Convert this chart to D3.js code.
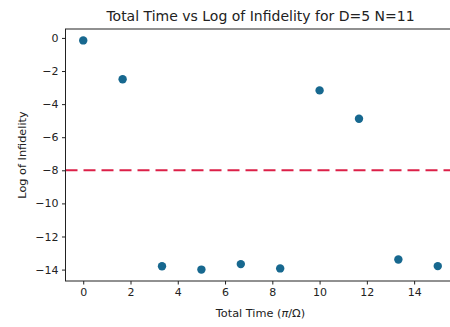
<!DOCTYPE html>
<html>
<head>
  <meta charset="utf-8">
  <script src="https://d3js.org/d3.v7.min.js"></script>
  <style>
    body { margin: 0; background: #fff; }
    text { font-family: "DejaVu Sans", sans-serif; fill: #222; }
  </style>
</head>
<body>
  <svg id="chart" width="450" height="327"></svg>
  <script>
    // tiempos totales (pi/Omega) y log de infidelidad
    const totalTime = [0, 1.667, 3.333, 5, 6.667, 8.333, 10, 11.667, 13.333, 15];
    const logInfidelity = [-0.15, -2.5, -13.8, -14.0, -13.67, -13.93, -3.17, -4.88, -13.39, -13.79];
    const threshold = -8;
    const xTicks = [0, 2, 4, 6, 8, 10, 12, 14];
    const yTicks = [0, -2, -4, -6, -8, -10, -12, -14];

    const svg = d3.select("#chart");
    const mLeft = 65.5, mRight = 455.5, mTop = 29, mBottom = 281;

    const x = d3.scaleLinear().domain([-0.75, 15.75]).range([mLeft, mRight]);
    const y = d3.scaleLinear().domain([-14.69, 0.54]).range([mBottom, mTop]);

    // línea de umbral
    svg.append("line")
      .attr("x1", mLeft).attr("x2", mRight)
      .attr("y1", y(threshold)).attr("y2", y(threshold))
      .attr("stroke", "#dc2048")
      .attr("stroke-width", 2)
      .attr("stroke-dasharray", "12,6");

    // puntos
    svg.append("g")
      .selectAll("circle")
      .data(totalTime)
      .enter()
      .append("circle")
      .attr("cx", d => x(d))
      .attr("cy", (d, i) => y(logInfidelity[i]))
      .attr("r", 4.2)
      .attr("fill", "#17688f");

    // ejes
    const xAxis = svg.append("g")
      .attr("transform", `translate(0,${mBottom})`)
      .call(d3.axisBottom(x).tickValues(xTicks).tickSize(3.5).tickPadding(3.5).tickFormat(d3.format("d")));
    const yAxis = svg.append("g")
      .attr("transform", `translate(${mLeft},0)`)
      .call(d3.axisLeft(y).tickValues(yTicks).tickSize(3.5).tickPadding(3.5)
        .tickFormat(d => d < 0 ? "\u2212" + Math.abs(d) : d));
    [xAxis, yAxis].forEach(a => {
      a.select(".domain").remove();
      a.selectAll("line").attr("stroke", "#222");
      a.selectAll("text").style("font-size", "11px").style("font-family", "DejaVu Sans").attr("fill", "#222");
    });

    // marco
    svg.append("rect")
      .attr("x", mLeft).attr("y", mTop)
      .attr("width", mRight - mLeft).attr("height", mBottom - mTop)
      .attr("fill", "none").attr("stroke", "#222").attr("stroke-width", 1);

    // títulos
    svg.append("text")
      .attr("x", (mLeft + mRight) / 2).attr("y", 20.5)
      .attr("text-anchor", "middle")
      .style("font-size", "14px")
      .text("Total Time vs Log of Infidelity for D=5 N=11");

    const xl = svg.append("text")
      .attr("x", (mLeft + mRight) / 2).attr("y", 316.5)
      .attr("text-anchor", "middle")
      .style("font-size", "11.3px");
    xl.append("tspan").text("Total Time (");
    xl.append("tspan").style("font-style", "italic").text("\u03c0");
    xl.append("tspan").text("/\u03a9)");

    svg.append("text")
      .attr("transform", `translate(26,${(mTop + mBottom) / 2}) rotate(-90)`)
      .attr("text-anchor", "middle")
      .style("font-size", "11.3px")
      .text("Log of Infidelity");
  </script>
</body>
</html>
